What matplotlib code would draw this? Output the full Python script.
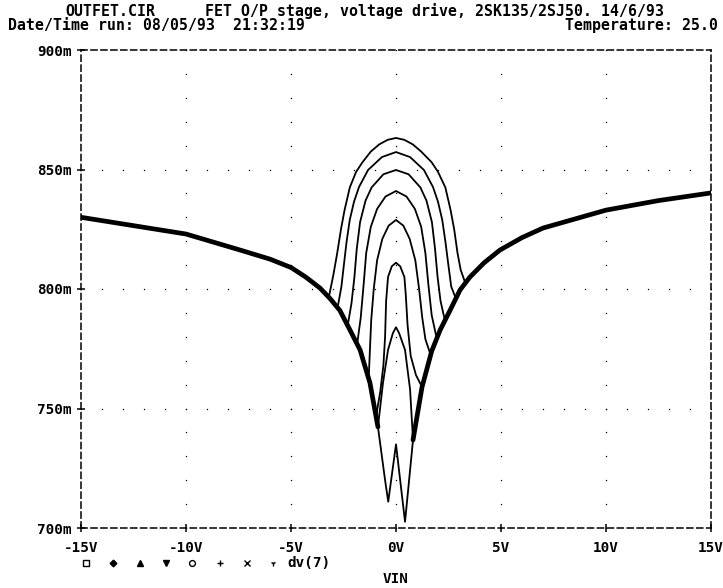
import matplotlib
matplotlib.use("Agg")
import matplotlib.pyplot as plt
from matplotlib.lines import Line2D
import numpy as np

# ---------------- data (y in mV) ----------------
env_left_x = [-15, -12.5, -10, -7.5, -6, -5, -4.3, -3.62, -3.14, -2.67, -2.19, -1.71, -1.24, -0.86]
env_left_y = [830, 826.5, 823, 816.5, 812.5, 809, 805, 800.4, 796, 791, 782.8, 774.5, 760.7, 742.3]
env_right_x = [0.81, 1.24, 1.7, 2.1, 2.57, 3.05, 3.52, 4.2, 4.95, 6, 7, 10, 12.5, 15]
env_right_y = [736.8, 759, 774, 782.8, 791, 799.6, 805, 811, 816.3, 821.5, 825.5, 833, 837, 840.2]

dome1_x = [-3.2, -2.98, -2.8, -2.62, -2.45, -2.2, -1.9, -1.6, -1.2, -0.8, -0.4, 0, 0.4, 0.8, 1.2, 1.7, 2.0, 2.35, 2.6, 2.77, 2.93, 3.08, 3.3]
dome1_y = [796.5, 806, 815, 825, 833, 842.5, 849, 853, 857.5, 860.5, 862.4, 863.2, 862.4, 860.5, 857.5, 853, 849, 842.5, 833, 825, 815, 808, 802.5]
dome2_x = [-2.78, -2.6, -2.47, -2.35, -2.2, -2.0, -1.76, -1.33, -0.67, 0, 0.67, 1.33, 1.76, 2.0, 2.2, 2.35, 2.48, 2.63, 2.85]
dome2_y = [792.2, 801, 811, 820, 829, 836.5, 842.7, 849.8, 855.2, 857.3, 855.2, 849.8, 842.7, 836.5, 829, 820, 811, 801, 796]
dome3_x = [-2.3, -2.12, -1.98, -1.87, -1.71, -1.45, -1.16, -0.6, 0, 0.6, 1.16, 1.45, 1.71, 1.86, 1.98, 2.12, 2.33]
dome3_y = [784.7, 794, 805, 816.7, 828, 837, 842.5, 848, 849.8, 848, 842.5, 837, 828, 816.7, 805, 795, 786.8]
dome4_x = [-1.85, -1.68, -1.54, -1.42, -1.2, -0.9, -0.5, 0, 0.5, 0.9, 1.2, 1.4, 1.54, 1.7, 1.94]
dome4_y = [776.9, 788, 802, 815, 826, 833.5, 838.7, 841, 838.7, 833.5, 826, 815, 802, 789, 779.3]
dome5_x = [-1.3, -1.24, -1.18, -1.06, -0.9, -0.65, -0.35, 0, 0.35, 0.65, 0.92, 1.1, 1.25, 1.4, 1.65]
dome5_y = [762.5, 775, 787, 800, 812, 821, 826.5, 828.9, 826.5, 821, 812, 800, 788, 779, 772.4]
dome6_x = [-0.95, -0.75, -0.6, -0.52, -0.47, -0.38, -0.2, 0, 0.2, 0.4, 0.47, 0.55, 0.7, 0.95, 1.24]
dome6_y = [746.7, 757, 768, 780, 795, 805, 809.5, 811, 809.5, 805, 797, 785, 772, 764, 759]
dome7_x = [-0.86, -0.62, -0.38, -0.15, 0, 0.15, 0.43, 0.67, 0.81]
dome7_y = [742.3, 760.7, 774.5, 781.5, 784, 781.5, 774.5, 758, 736.8]
dome8_x = [-0.86, -0.52, -0.37, 0, 0.43, 0.81]
dome8_y = [742.3, 720, 711, 735, 702.6, 736.8]

domes = [(dome1_x, dome1_y), (dome2_x, dome2_y), (dome3_x, dome3_y), (dome4_x, dome4_y),
         (dome5_x, dome5_y), (dome6_x, dome6_y), (dome7_x, dome7_y), (dome8_x, dome8_y)]

x_ticks = [-15, -10, -5, 0, 5, 10, 15]
x_tick_labels = ["-15V", "-10V", "-5V", "0V", "5V", "10V", "15V"]
y_ticks = [700, 750, 800, 850, 900]
y_tick_labels = ["700m", "750m", "800m", "850m", "900m"]

title_left = "OUTFET.CIR"
title_right = "FET O/P stage, voltage drive, 2SK135/2SJ50. 14/6/93"
date_text = "Date/Time run: 08/05/93  21:32:19"
temp_text = "Temperature: 25.0"
legend_markers = ["s", "D", "^", "v", "o", "+", "x", "1"]
legend_label = "dv(7)"
x_label = "VIN"

# ---------------- figure ----------------
W, H = 723, 588
fig = plt.figure(figsize=(W / 100, H / 100), dpi=100)
L, R, T, B = 81, 711, 50, 528
ax = fig.add_axes([L / W, 1 - B / H, (R - L) / W, (B - T) / H])
ax.set_xlim(-15, 15)
ax.set_ylim(700, 900)

FONT = dict(family="DejaVu Sans Mono", weight="bold", size=10.7)
TFONT = dict(family="DejaVu Sans Mono", weight="bold", size=10.3)

# dotted grid
gx = np.arange(-15, 15.01, 1.0)
gy = np.arange(700, 900.01, 10.0)
for xv in x_ticks[1:-1]:
    ax.plot([xv] * len(gy), gy, ls="none", marker="o", ms=1.0, color="black", mew=0)
for yv in y_ticks[1:-1]:
    ax.plot(gx, [yv] * len(gx), ls="none", marker="o", ms=1.0, color="black", mew=0)

# curves
for dx, dy in domes:
    xs = [v for v in env_left_x if v < dx[0]] + list(dx) + [v for v in env_right_x if v > dx[-1]]
    ys = [env_left_y[i] for i, v in enumerate(env_left_x) if v < dx[0]] + list(dy) + \
         [env_right_y[i] for i, v in enumerate(env_right_x) if v > dx[-1]]
    ax.plot(xs, ys, color="black", lw=1.3, solid_joinstyle="round")
ax.plot(env_left_x, env_left_y, color="black", lw=3.4, solid_capstyle="round", solid_joinstyle="round")
ax.plot(env_right_x, env_right_y, color="black", lw=3.4, solid_capstyle="round", solid_joinstyle="round")

# frame
for s in ax.spines.values():
    s.set_linestyle((0, (4, 2.5)))
    s.set_linewidth(1.1)
ax.set_xticks(x_ticks)
ax.set_xticklabels(x_tick_labels, fontdict=TFONT)
ax.set_yticks(y_ticks)
ax.set_yticklabels(y_tick_labels, fontdict=TFONT)
ax.tick_params(direction="inout", length=6, width=1.1, pad=6)
ax.tick_params(axis="y", pad=4)

# header
fig.text(65 / W, 1 - 16 / H, title_left, ha="left", va="baseline", **FONT)
fig.text(205 / W, 1 - 16 / H, title_right, ha="left", va="baseline", **FONT)
fig.text(8 / W, 1 - 30 / H, date_text, ha="left", va="baseline", **FONT)
fig.text(718 / W, 1 - 30 / H, temp_text, ha="right", va="baseline", **FONT)

# legend row
mx = [86, 113, 140, 166, 192, 220, 247, 273]
for m, xp in zip(legend_markers, mx):
    filled = m in ("D", "^", "v")
    fig.add_artist(Line2D([xp / W], [1 - 563 / H], marker=m, ms=4.2 if m != "D" else 3.4,
                          color="black", mfc="black" if filled else "white", mew=1.0, ls="none"))
fig.text(287 / W, 1 - 567 / H, legend_label, ha="left", va="baseline", **TFONT)
fig.text(396 / W, 1 - 583 / H, x_label, ha="center", va="baseline", **TFONT)

fig.savefig("out.png", dpi=100)
